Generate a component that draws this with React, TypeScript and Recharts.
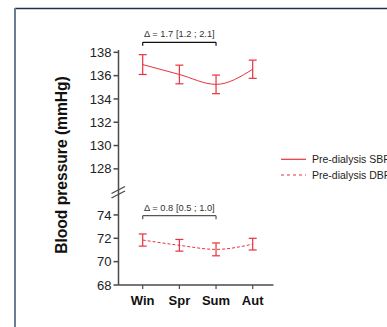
import React from 'react';
import { LineChart, Line, XAxis, YAxis, ErrorBar, ReferenceLine } from 'recharts';

const seasons = ['Win', 'Spr', 'Sum', 'Aut'];
const sbpMean = [136.95, 136.1, 135.25, 136.55];
const sbpErr = [0.85, 0.8, 0.8, 0.78];
const dbpMean = [71.85, 71.4, 71.05, 71.5];
const dbpErr = [0.52, 0.5, 0.55, 0.5];
const upperTicks = [128, 130, 132, 134, 136, 138];
const lowerTicks = [68, 70, 72, 74];
const sbpDelta = 'Δ = 1.7 [1.2 ; 2.1]';
const dbpDelta = 'Δ = 0.8 [0.5 ; 1.0]';
const legendLabels = ['Pre-dialysis SBP', 'Pre-dialysis DBP'];

const data = seasons.map((s, i) => ({
  x: i + 1,
  season: s,
  sbp: sbpMean[i],
  sbpErr: sbpErr[i],
  dbp: dbpMean[i],
  dbpErr: dbpErr[i],
}));

const RED = '#e8323c';
const AXIS = '#4a4a4a';
const FONT = '"Liberation Sans", Arial, sans-serif';
const X_DOMAIN: [number, number] = [0.34, 4.567];
const xTicks = data.map((d) => d.x);

export default function App() {
  return (
    <div
      style={{
        position: 'fixed',
        left: 0,
        top: 0,
        width: 387,
        height: 327,
        overflow: 'hidden',
        background: '#fff',
        fontFamily: FONT,
      }}
    >
      <style>{'html,body{overflow:hidden}'}</style>
      {/* upper panel: SBP */}
      <div style={{ position: 'absolute', left: 0, top: 0 }}>
        <LineChart
          width={300}
          height={191}
          data={data}
          margin={{ top: 50, right: 26.5, bottom: 0, left: 0 }}
        >
          <XAxis dataKey="x" type="number" domain={X_DOMAIN} ticks={xTicks} hide allowDataOverflow />
          <YAxis
            type="number"
            domain={[126.1, 138.2]}
            ticks={upperTicks}
            width={118.5}
            allowDataOverflow
            axisLine={{ stroke: AXIS, strokeWidth: 1.5 }}
            tickLine={{ stroke: AXIS, strokeWidth: 1.5 }}
            tickSize={5}
            tickMargin={2}
            tick={{ fontSize: 13, fill: '#222', fontFamily: FONT }}
          />
          <ReferenceLine
            segment={[{ x: 1, y: 138.857 }, { x: 3, y: 138.857 }]}
            stroke="#111"
            strokeWidth={1.2}
            ifOverflow="visible"
            label={{ value: sbpDelta, position: 'top', offset: 5, fontSize: 9.3, fill: '#333', fontFamily: FONT }}
          />
          <ReferenceLine segment={[{ x: 1, y: 138.857 }, { x: 1, y: 138.56 }]} stroke="#111" strokeWidth={1.2} ifOverflow="visible" />
          <ReferenceLine segment={[{ x: 3, y: 138.857 }, { x: 3, y: 138.56 }]} stroke="#111" strokeWidth={1.2} ifOverflow="visible" />
          <Line
            dataKey="sbp"
            type="monotone"
            stroke={RED}
            strokeWidth={1}
            dot={false}
            isAnimationActive={false}
          >
            <ErrorBar dataKey="sbpErr" width={4} stroke={RED} strokeWidth={1.2} direction="y" isAnimationActive={false} />
          </Line>
        </LineChart>
      </div>
      {/* lower panel: DBP */}
      <div style={{ position: 'absolute', left: 0, top: 191 }}>
        <LineChart
          width={300}
          height={124}
          data={data}
          margin={{ top: 0, right: 26.5, bottom: 0, left: 0 }}
        >
          <XAxis
            dataKey="x"
            type="number"
            domain={X_DOMAIN}
            ticks={xTicks}
            allowDataOverflow
            height={30}
            tickFormatter={(v: number) => seasons[v - 1]}
            axisLine={{ stroke: AXIS, strokeWidth: 1.5 }}
            tickLine={{ stroke: AXIS, strokeWidth: 1.2 }}
            tickSize={4}
            tickMargin={7}
            tick={{ fontSize: 13, fill: '#111', fontWeight: 'bold', fontFamily: FONT }}
          />
          <YAxis
            type="number"
            domain={[68, 76.05]}
            ticks={lowerTicks}
            width={118.5}
            allowDataOverflow
            axisLine={{ stroke: AXIS, strokeWidth: 1.5 }}
            tickLine={{ stroke: AXIS, strokeWidth: 1.5 }}
            tickSize={5}
            tickMargin={2}
            tick={{ fontSize: 13, fill: '#222', fontFamily: FONT }}
          />
          <ReferenceLine
            segment={[{ x: 1, y: 73.94 }, { x: 3, y: 73.94 }]}
            stroke="#555"
            strokeWidth={1.2}
            ifOverflow="visible"
            label={{ value: dbpDelta, position: 'top', offset: 5, fontSize: 9.3, fill: '#333', fontFamily: FONT }}
          />
          <ReferenceLine segment={[{ x: 1, y: 73.94 }, { x: 1, y: 73.64 }]} stroke="#555" strokeWidth={1.2} ifOverflow="visible" />
          <ReferenceLine segment={[{ x: 3, y: 73.94 }, { x: 3, y: 73.64 }]} stroke="#555" strokeWidth={1.2} ifOverflow="visible" />
          <Line
            dataKey="dbp"
            type="monotone"
            stroke={RED}
            strokeWidth={1}
            strokeDasharray="3 2"
            dot={false}
            isAnimationActive={false}
          >
            <ErrorBar dataKey="dbpErr" width={4} stroke={RED} strokeWidth={1.2} direction="y" isAnimationActive={false} />
          </Line>
        </LineChart>
      </div>
      {/* overlay: frame, axis title, axis break, legend */}
      <svg
        width={387}
        height={327}
        style={{ position: 'absolute', left: 0, top: 0, pointerEvents: 'none' }}
      >
        <line x1={15} y1={8.5} x2={387} y2={8.5} stroke="#1c2f55" strokeWidth={1.5} />
        <line x1={15} y1={8} x2={15} y2={327} stroke="#6e7d96" strokeWidth={2} />
        <text
          transform="translate(66.7,165) rotate(-90)"
          textAnchor="middle"
          fontSize={15.6}
          fontWeight="bold"
          fill="#111"
          fontFamily={FONT}
        >
          Blood pressure (mmHg)
        </text>
        <line x1={111.5} y1={193.5} x2={125} y2={186.5} stroke={AXIS} strokeWidth={1.3} />
        <line x1={111.5} y1={198} x2={125} y2={191} stroke={AXIS} strokeWidth={1.3} />
        <line x1={281} y1={159.3} x2={306} y2={159.3} stroke={RED} strokeWidth={1.2} />
        <line x1={281} y1={175} x2={306} y2={175} stroke={RED} strokeWidth={1.2} strokeDasharray="3 3" />
        <text x={312} y={159.3} dominantBaseline="central" fontSize={10.5} fill="#222" fontFamily={FONT}>
          {legendLabels[0]}
        </text>
        <text x={312} y={175} dominantBaseline="central" fontSize={10.5} fill="#222" fontFamily={FONT}>
          {legendLabels[1]}
        </text>
      </svg>
    </div>
  );
}
